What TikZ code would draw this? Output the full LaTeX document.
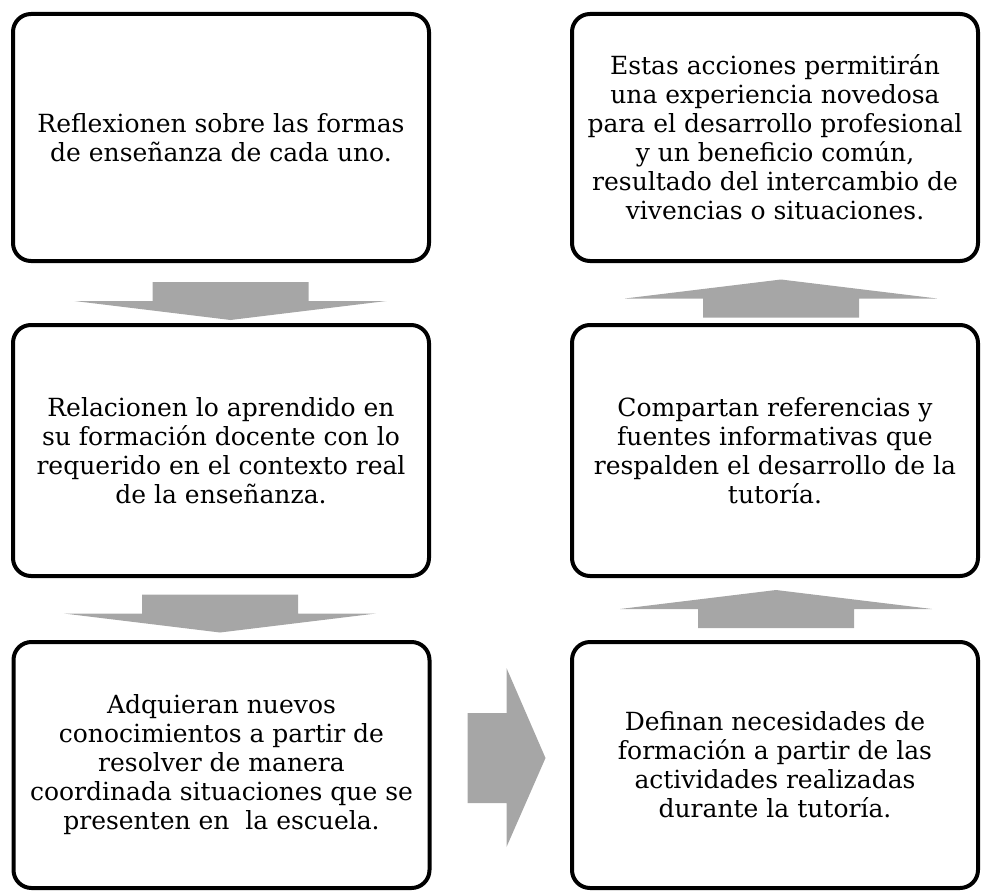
\documentclass[tikz,border=0pt]{standalone}
\usepackage{fontspec}
\setmainfont{DejaVu Serif}
\usetikzlibrary{calc}

\definecolor{arrowgray}{HTML}{A6A6A6}

\tikzset{
  stepbox/.style={draw=black, line width=4pt, rounded corners=18pt,
    align=center, inner sep=0pt, font=\fontsize{25}{29}\selectfont},
  leftbox/.style={stepbox, minimum width=416pt},
  rightbox/.style={stepbox, minimum width=406pt},
  % flat block arrow, pointing down (y runs downwards)
  flatarrow/.pic={
    \fill[arrowgray] (-78,-19) -- (78,-19) -- (78,0) -- (156,0) -- (0,19)
      -- (-156,0) -- (-78,0) -- cycle;
  }
}

\begin{document}
\begin{tikzpicture}[x=1pt,y=-1pt]
  \useasboundingbox (0,0) rectangle (982,891);

  % left column, top to bottom
  \node[leftbox, minimum height=247pt] (b1) at (221,137.5)
    {Reflexionen sobre las formas\\ de enseñanza de cada uno.};
  \node[leftbox, minimum height=251pt] (b2) at (221,450.5)
    {Relacionen lo aprendido en\\ su formación docente con lo\\
     requerido en el contexto real\\ de la enseñanza.};
  \node[leftbox, minimum height=246pt] (b3) at (221.5,765)
    {Adquieran nuevos\\ conocimientos a partir de\\ resolver de manera\\
     coordinada situaciones que se\\ presenten en\ \ la escuela.};

  % right column, bottom to top
  \node[rightbox, minimum height=246pt] (b4) at (775,765)
    {Definan necesidades de\\ formación a partir de las\\
     actividades realizadas\\ durante la tutoría.};
  \node[rightbox, minimum height=251pt] (b5) at (775,450.5)
    {Compartan referencias y\\ fuentes informativas que\\
     respalden el desarrollo de la\\ tutoría.};
  \node[rightbox, minimum height=247pt] (b6) at (775,137.5)
    {Estas acciones permitirán\\ una experiencia novedosa\\
     para el desarrollo profesional\\ y un beneficio común,\\
     resultado del intercambio de\\ vivencias o situaciones.};

  % arrows between the boxes
  \pic at ($(b1.south)+(9.5,38)$) {flatarrow};
  \pic at ($(b2.south)+(-1,35.5)$) {flatarrow};
  \pic[rotate=180] at ($(b4.north)+(1,-31)$) {flatarrow};
  \pic[rotate=180] at ($(b5.north)+(6,-24.5)$) {flatarrow};
  \fill[arrowgray] ($(b3.east)+(36,-52)$) -- ($(b3.east)+(75,-52)$)
    -- ($(b3.east)+(75,-97)$) -- ($(b3.east)+(114,-7)$)
    -- ($(b3.east)+(75,82)$) -- ($(b3.east)+(75,38)$)
    -- ($(b3.east)+(36,38)$) -- cycle;
\end{tikzpicture}
\end{document}
